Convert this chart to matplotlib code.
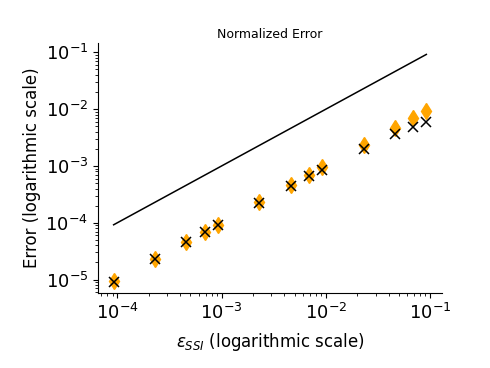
import matplotlib
matplotlib.use("Agg")
import matplotlib.pyplot as plt

# step sizes (x axis)
eps = [9.2e-5, 2.3e-4, 4.6e-4, 6.9e-4, 9.2e-4, 2.3e-3, 4.6e-3, 6.9e-3,
       9.2e-3, 2.3e-2, 4.6e-2, 6.9e-2, 9.2e-2]
# error estimates (orange diamonds)
err_est = [9.3e-6, 2.3e-5, 4.6e-5, 6.9e-5, 9.3e-5, 2.3e-4, 4.7e-4, 7.0e-4,
           9.5e-4, 2.3e-3, 4.7e-3, 6.9e-3, 9.3e-3]
# actual errors (black crosses)
err_act = [9.2e-6, 2.3e-5, 4.6e-5, 6.9e-5, 9.1e-5, 2.25e-4, 4.4e-4, 6.6e-4,
           8.4e-4, 1.95e-3, 3.6e-3, 4.8e-3, 6.0e-3]
# reference line y = x
ref_x = [eps[0], eps[-1]]
ref_y = [eps[0], eps[-1]]

fig = plt.figure(figsize=(4.9, 3.68), dpi=100)
ax = fig.add_axes([0.2, 0.204, 0.702, 0.679])

ax.plot(ref_x, ref_y, color="black", lw=1.1)
ax.plot(eps, err_est, "d", color="orange", ms=8, ls="none")
ax.plot(eps, err_act, "x", color="black", ms=7, mew=1.1, ls="none")

ax.set_xscale("log")
ax.set_yscale("log")
ax.spines["top"].set_visible(False)
ax.spines["right"].set_visible(False)
ax.tick_params(labelsize=13)

ax.set_title("Normalized Error", fontsize=9, pad=4)
ax.set_xlabel(r"$\varepsilon_{SSI}$ (logarithmic scale)", fontsize=12, labelpad=6)
ax.set_ylabel("Error (logarithmic scale)", fontsize=12, labelpad=3)

fig.savefig("out.png", dpi=100)
